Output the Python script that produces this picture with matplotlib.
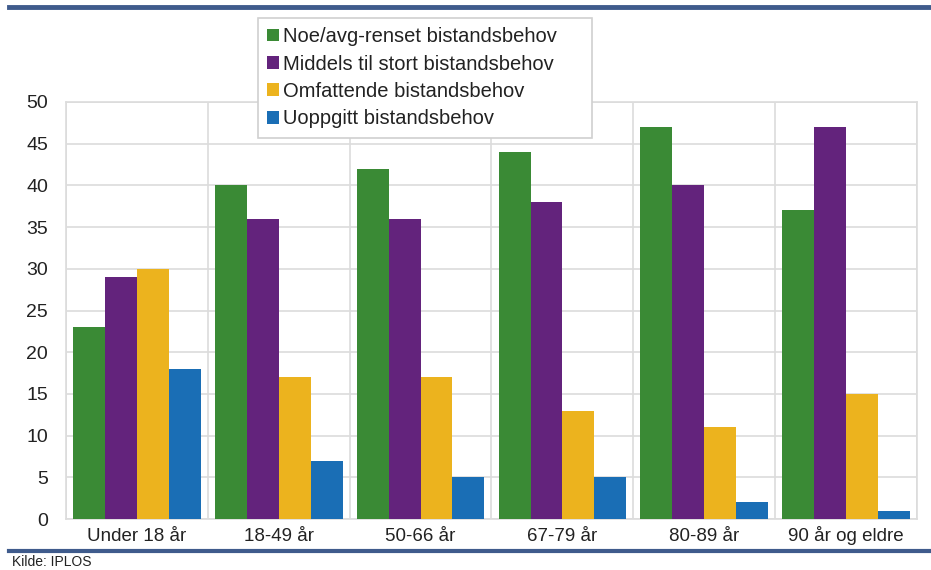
import numpy as np
import matplotlib.pyplot as plt
from matplotlib.lines import Line2D

plt.rcParams['font.family'] = ['Liberation Sans', 'DejaVu Sans']

categories = ['Under 18 år', '18-49 år', '50-66 år', '67-79 år', '80-89 år', '90 år og eldre']
series_names = ['Noe/avg-renset bistandsbehov', 'Middels til stort bistandsbehov',
                'Omfattende bistandsbehov', 'Uoppgitt bistandsbehov']
noe = [23, 40, 42, 44, 47, 37]
middels = [29, 36, 36, 38, 40, 47]
omfattende = [30, 17, 17, 13, 11, 15]
uoppgitt = [18, 7, 5, 5, 2, 1]
colors = ['#3a8a35', '#63237c', '#ecb31e', '#1a6eb5']
yticks = [0, 5, 10, 15, 20, 25, 30, 35, 40, 45, 50]

fig = plt.figure(figsize=(9.31, 5.70), dpi=100)
ax = fig.add_axes([66 / 931, 1 - 519 / 570, (917 - 66) / 931, (519 - 102) / 570])

x = np.arange(len(categories))
w = 0.225
for i, vals in enumerate([noe, middels, omfattende, uoppgitt]):
    ax.bar(x + (i - 1.5) * w, vals, w, color=colors[i], label=series_names[i], zorder=3)

ax.set_xlim(-0.5, len(categories) - 0.5)
ax.set_ylim(0, 50)
ax.set_yticks(yticks)
ax.set_xticks(x)
ax.set_xticklabels(categories, fontsize=13.5, color='#222222', va='baseline')
ax.tick_params(axis='y', labelsize=14, length=0, pad=13, labelcolor='#222222')
ax.tick_params(axis='x', length=0, pad=15.5)
ax.set_xticks(np.arange(len(categories) + 1) - 0.5, minor=True)
ax.tick_params(axis='x', which='minor', length=0)
ax.grid(axis='y', color='#dcdcdc', linewidth=1.2, zorder=0)
ax.grid(axis='x', which='minor', color='#dcdcdc', linewidth=1.2, zorder=0)
for s in ax.spines.values():
    s.set_color('#dcdcdc')
    s.set_linewidth(1.2)

# legend box in pixel terms: x 258-592, top at y 18
lx0 = (258 - 66) / 851
lw = (592 - 258) / 851
ltop = (519 - 18) / 417
leg = ax.legend(loc='upper left', bbox_to_anchor=(lx0, ltop - 0.5, lw, 0.5), mode='expand',
                fontsize=14.5, handlelength=0.6, handleheight=0.6, handletextpad=0.2,
                labelspacing=0.42, borderpad=0.45, borderaxespad=0, fancybox=False,
                framealpha=1, edgecolor='#d0d0d0')
leg.get_frame().set_linewidth(1.2)
leg.set_zorder(5)
for t in leg.get_texts():
    t.set_color('#222222')

fig.add_artist(Line2D([0.01, 1], [1 - 7 / 570, 1 - 7 / 570], color='#3f5b8c', linewidth=3.5))
fig.add_artist(Line2D([0.01, 1], [1 - 551 / 570, 1 - 551 / 570], color='#3f5b8c', linewidth=3))
fig.text(12 / 931, 1 / 570, 'Kilde: IPLOS', fontsize=10, va='bottom', color='#222222')

fig.savefig('out.png', dpi=100)
